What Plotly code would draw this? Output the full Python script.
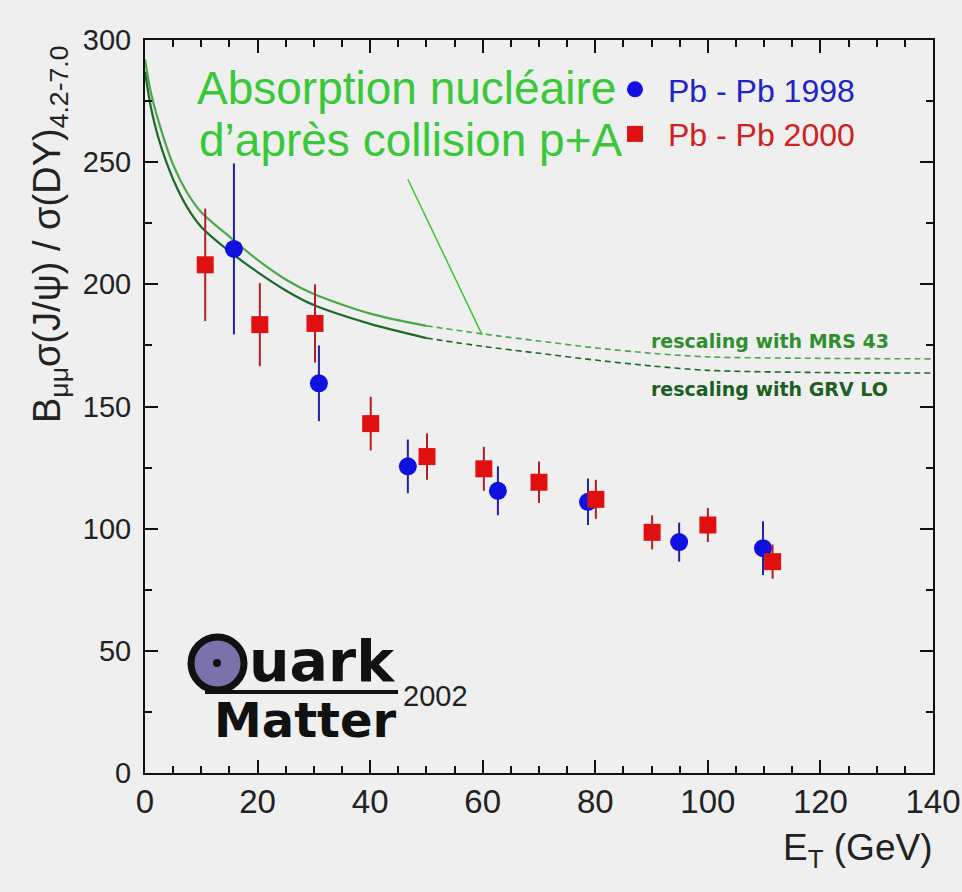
import plotly.graph_objects as go

# ---------------- data ----------------
et_2000 = [10.7, 20.4, 30.2, 40.1, 50.1, 60.2, 70.0, 80.1, 90.1, 100.0, 111.5]
r_2000 = [208, 183.5, 184, 143, 129.5, 124.5, 119, 112, 98.5, 101.5, 86.5]
e_2000 = [23, 17, 16, 11, 9.5, 9, 8.5, 8, 7, 7, 7]

et_1998 = [15.8, 30.9, 46.7, 62.7, 78.7, 94.9, 109.8]
r_1998 = [214.5, 159.5, 125.5, 115.5, 111, 94.5, 92]
e_1998 = [35, 15.5, 11, 10, 9.5, 8, 11]

curve_et = [0, 1, 2.5, 5, 7.5, 10, 15, 20, 25, 30, 40, 50, 60, 70, 80, 90, 100, 120, 140]
mrs43 = [292, 279, 266, 249, 237.5, 229.5, 219.5, 210, 202, 196, 188, 183, 179.7, 176.8, 174, 171.8, 170.3, 169.7, 169.5]
grvlo = [287, 273, 259, 243, 231.5, 223.5, 213.5, 205, 197.5, 191.5, 183.8, 178, 174.6, 171.8, 169, 166.6, 164.8, 163.9, 163.7]
solid_end = 12  # curves drawn solid up to E_T = 50, dashed beyond

x_ticks = [0, 20, 40, 60, 80, 100, 120, 140]
y_ticks = [0, 50, 100, 150, 200, 250, 300]

# ---------------- helpers (pixel -> paper) ----------------
L, R, T, B = 145, 29, 40, 119
W, H = 962, 892
PW, PH = W - L - R, H - T - B


def px(p):
    return (p - L) / PW


def py(p):
    return (H - B - p) / PH


GREEN_TXT = "#38c838"
MRS_COL = "#4aa84a"
GRV_COL = "#1c6a28"

fig = go.Figure()

# theory curves
for ys, col in [(mrs43, MRS_COL), (grvlo, GRV_COL)]:
    fig.add_trace(go.Scatter(x=curve_et[:solid_end], y=ys[:solid_end], mode="lines",
                             line=dict(color=col, width=2.2, shape="spline", smoothing=0.8),
                             showlegend=False, hoverinfo="skip"))
    fig.add_trace(go.Scatter(x=curve_et[solid_end - 1:], y=ys[solid_end - 1:], mode="lines",
                             line=dict(color=col, width=1.6, dash="6px,4px", shape="spline", smoothing=0.8),
                             showlegend=False, hoverinfo="skip"))

# data
fig.add_trace(go.Scatter(
    x=et_1998, y=r_1998, mode="markers", name='<span style="color:#2222c8">Pb - Pb 1998</span>',
    marker=dict(symbol="circle", size=18, color="#1010e0"),
    error_y=dict(type="data", array=e_1998, visible=True, color="#2020a8", thickness=2, width=0)))
fig.add_trace(go.Scatter(
    x=et_2000, y=r_2000, mode="markers", name='<span style="color:#d02020">Pb - Pb 2000</span>',
    marker=dict(symbol="square", size=17, color="#e01010"),
    error_y=dict(type="data", array=e_2000, visible=True, color="#b02020", thickness=2, width=0)))

fig.update_layout(
    width=W, height=H,
    margin=dict(l=L, r=R, t=T, b=B, autoexpand=False),
    paper_bgcolor="#efefef", plot_bgcolor="#efefef",
    font=dict(family="Liberation Sans, Arial, sans-serif", color="#222222"),
    legend=dict(x=px(602), y=py(62), xanchor="left", yanchor="top",
                bgcolor="rgba(0,0,0,0)", font=dict(size=32), tracegroupgap=0,
                itemsizing="trace", itemwidth=56),
    showlegend=True,
)

fig.update_xaxes(range=[0, 140], tickvals=x_ticks, ticks="inside", ticklen=13, tickwidth=1.5,
                 tickcolor="#111", showline=True, linecolor="#111", linewidth=2, mirror="ticks",
                 showgrid=False, zeroline=False, tickfont=dict(size=33, color="#222"),
                 ticklabelstandoff=-2, automargin=False,
                 minor=dict(dtick=5, ticks="inside", ticklen=7, tickcolor="#111", showgrid=False))
fig.update_yaxes(range=[0, 300], tickvals=y_ticks, ticks="inside", ticklen=13, tickwidth=1.5,
                 tickcolor="#111", showline=True, linecolor="#111", linewidth=2, mirror="ticks",
                 showgrid=False, zeroline=False, tickfont=dict(size=29, color="#222"),
                 ticklabelstandoff=6, automargin=False,
                 minor=dict(dtick=25, ticks="inside", ticklen=7, tickcolor="#111", showgrid=False))

ann = []
# axis titles
ann.append(dict(xref="paper", yref="paper", x=px(50), y=py(235), textangle=-90,
                text="B<sub>μμ</sub>σ(J/ψ) / σ(DY)<sub>4.2-7.0</sub>",
                font=dict(size=38, color="#222"), showarrow=False,
                xanchor="center", yanchor="middle"))
ann.append(dict(xref="paper", yref="paper", x=px(934), y=py(850),
                text="E<sub>T</sub> (GeV)", font=dict(size=37, color="#222"),
                showarrow=False, xanchor="right", yanchor="middle"))
# big green annotation
ann.append(dict(xref="paper", yref="paper", x=px(195), y=py(88), text="Absorption nucléaire",
                font=dict(size=46, color=GREEN_TXT), showarrow=False,
                xanchor="left", yanchor="middle"))
ann.append(dict(xref="paper", yref="paper", x=px(197), y=py(140), text="d’après collision p+A",
                font=dict(size=46, color=GREEN_TXT), showarrow=False,
                xanchor="left", yanchor="middle"))
# curve labels
ann.append(dict(x=89.6, y=176.8, text="<b>rescaling with MRS 43</b>",
                font=dict(size=19, color="#2f8f2f", family="DejaVu Sans"), showarrow=False,
                xanchor="left", yanchor="middle"))
ann.append(dict(x=89.6, y=157.3, text="<b>rescaling with GRV LO</b>",
                font=dict(size=19, color="#1d5f22", family="DejaVu Sans"), showarrow=False,
                xanchor="left", yanchor="middle"))
# Quark Matter 2002 logo
ann.append(dict(xref="paper", yref="paper", x=px(247), y=py(682), text="<b>uark</b>",
                font=dict(size=57, color="#111", family="DejaVu Sans"), showarrow=False,
                xanchor="left", yanchor="bottom", yshift=-14))
ann.append(dict(xref="paper", yref="paper", x=px(212), y=py(738), text="<b>Matter</b>",
                font=dict(size=48, color="#111", family="DejaVu Sans"), showarrow=False,
                xanchor="left", yanchor="bottom", yshift=-12))
ann.append(dict(xref="paper", yref="paper", x=px(401), y=py(696), text="2002",
                font=dict(size=29, color="#222", family="Liberation Sans Narrow, Liberation Sans"),
                showarrow=False, xanchor="left", yanchor="middle"))
fig.update_layout(annotations=ann)

shapes = []
# pointer line for the green annotation
shapes.append(dict(type="line", xref="x", yref="y", x0=46.7, y0=243, x1=59.9, y1=179.3,
                   line=dict(color=GREEN_TXT, width=1.5)))
# logo Q
shapes.append(dict(type="circle", xref="paper", yref="paper",
                   x0=px(191), x1=px(244), y0=py(690), y1=py(637),
                   fillcolor="#7a72aa", line=dict(color="#111", width=7)))
shapes.append(dict(type="circle", xref="paper", yref="paper",
                   x0=px(213), x1=px(221), y0=py(667), y1=py(659),
                   fillcolor="#111", line=dict(color="#111", width=0)))
shapes.append(dict(type="line", xref="paper", yref="paper",
                   x0=px(205), x1=px(398), y0=py(692), y1=py(692),
                   line=dict(color="#111", width=4)))
fig.update_layout(shapes=shapes)

fig.write_html("out.html", config={"displayModeBar": False}, post_script=(
    "document.body.style.margin='0';"
    "document.body.style.overflow='hidden';"
    "document.body.style.background='#efefef';"))
